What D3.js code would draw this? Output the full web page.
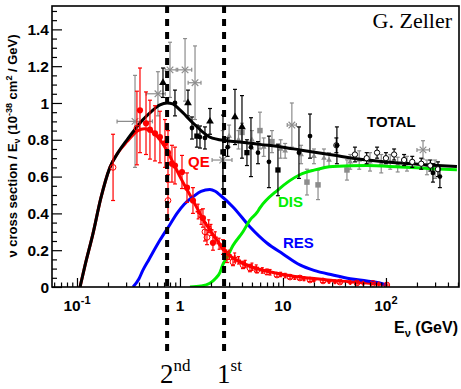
<!DOCTYPE html>
<html><head><meta charset="utf-8">
<script src="https://cdn.jsdelivr.net/npm/d3@7"></script>
<style>body{margin:0;background:#fff;} svg{display:block;}</style>
</head><body>
<svg id="c" width="461" height="389"></svg>
<script>
// ---------- DATA ----------
const xMin = 0.0572, xMax = 512;
const yMax = 1.527;
const yTicks = [0, 0.2, 0.4, 0.6, 0.8, 1, 1.2, 1.4];
const yTickLabels = ["0", "0.2", "0.4", "0.6", "0.8", "1", "1.2", "1.4"];
const yMinor = [0.05,0.1,0.15,0.25,0.3,0.35,0.45,0.5,0.55,0.65,0.7,0.75,0.85,0.9,0.95,1.05,1.1,1.15,1.25,1.3,1.35,1.45,1.5];
const xTicks = [0.1, 1, 10, 100];
const xTickBase = ["10", "1", "10", "10"];
const xTickExp = ["-1", "", "", "2"];
const xMinor = [0.06,0.07,0.08,0.09,0.2,0.3,0.4,0.5,0.6,0.7,0.8,0.9,2,3,4,5,6,7,8,9,20,30,40,50,60,70,80,90,200,300,400,500];
const peakLines = [0.75, 2.68];   // "2nd" and "1st" oscillation maxima

// model curves [E (GeV), sigma/E]
const totalCurve = [[0.107,0],[0.12,0.12],[0.143,0.29],[0.17,0.48],[0.209,0.65],[0.25,0.73],[0.306,0.80],[0.37,0.86],[0.438,0.91],[0.53,0.955],[0.64,0.99],[0.75,1.0],[0.85,0.995],[1.0,0.962],[1.34,0.891],[1.95,0.815],[2.85,0.795],[4.0,0.787],[5.96,0.775],[10,0.76],[14.6,0.745],[30.5,0.717],[65.4,0.69],[137,0.674],[285,0.662],[489,0.655]];
const qeCurve = [[0.107,0],[0.12,0.12],[0.143,0.29],[0.17,0.48],[0.209,0.65],[0.25,0.73],[0.306,0.79],[0.39,0.85],[0.45,0.86],[0.52,0.85],[0.64,0.80],[0.75,0.74],[0.85,0.68],[1.0,0.60],[1.34,0.47],[1.67,0.37],[2.29,0.255],[2.86,0.185],[4.0,0.13],[6.0,0.095],[10,0.068],[14.6,0.054],[30.5,0.036],[65,0.022],[102,0.012]];
const resCurve = [[0.35,0],[0.40,0.045],[0.437,0.092],[0.5,0.15],[0.64,0.255],[0.8,0.34],[0.935,0.40],[1.1,0.45],[1.34,0.49],[1.6,0.52],[1.95,0.53],[2.2,0.52],[2.45,0.50],[3.27,0.435],[4.79,0.326],[6.98,0.239],[10,0.18],[14.6,0.12],[20,0.09],[30.5,0.065],[45,0.045],[65.4,0.033],[87,0.022],[100,0.012]];
const disCurve = [[1.25,0],[1.6,0.005],[1.95,0.02],[2.2,0.045],[2.45,0.08],[2.6,0.12],[2.86,0.16],[3.27,0.225],[4.09,0.3],[4.78,0.364],[5.6,0.405],[5.98,0.43],[8.9,0.527],[14.6,0.61],[20,0.635],[30.5,0.655],[65,0.66],[137,0.652],[285,0.643],[489,0.637]];

// data points [E, value, yerr, (xlow, xhigh)]
const qeFilled = [[0.409,0.96,0.23],[0.468,0.89,0.17],[0.511,0.855,0.16],[0.572,0.835,0.15],[0.639,0.815,0.14],[0.715,0.78,0.13],[0.765,0.73,0.12],[0.836,0.67,0.10],[0.894,0.66,0.10],[1.046,0.625,0.09],[1.17,0.54,0.08],[1.337,0.47,0.07],[1.672,0.375,0.05],[2.09,0.24,0.04],[2.615,0.217,0.04]];
const qeOpen = [[0.224,0.65,0.18],[0.382,0.864,0.2],[0.765,0.47,0.1],[1.748,0.30,0.05],[1.829,0.27,0.04],[2.86,0.163,0.03],[3.27,0.136,0.02],[4.09,0.12,0.02],[4.78,0.103,0.02],[5.59,0.092,0.015],[6.99,0.082,0.015],[8.74,0.065,0.01],[11.7,0.054,0.01],[14.6,0.049,0.01],[18.3,0.038,0.008],[24.5,0.033,0.008],[35.7,0.027,0.006],[52.3,0.022,0.006],[74.8,0.02,0.005],[102,0.011,0.005]];
const qeDense = [[1.5,0.41,0.04],[1.6,0.38,0.04],[1.9,0.33,0.035],[2.0,0.31,0.03],[2.2,0.27,0.03],[2.4,0.235,0.03],[2.7,0.2,0.03],[3.0,0.175,0.025],[3.4,0.16,0.025],[3.7,0.145,0.02],[4.3,0.125,0.02],[5.0,0.11,0.02],[5.5,0.1,0.02],[6.3,0.09,0.015],[7.5,0.08,0.015],[9.5,0.068,0.012],[10.5,0.062,0.012],[13,0.052,0.01],[16,0.045,0.01],[20,0.038,0.008],[28,0.03,0.007],[32,0.028,0.007],[45,0.024,0.006],[60,0.021,0.005],[85,0.016,0.005]];
const totBlackTri = [[0.684,1.11,0.08],[1.196,1.0,0.07],[1.956,0.9,0.07],[3.42,0.924,0.15],[4.0,0.87,0.17]];
const totBlackSq = [[1.46,0.82,0.06],[2.615,0.734,0.2],[4.47,0.73,0.07],[8.94,0.636,0.14]];
const totBlackCirc = [[0.894,1.0,0.07],[1.308,0.864,0.06],[1.564,0.815,0.06],[1.748,0.81,0.06],[2.9,0.76,0.05],[4.89,0.76,0.16],[5.72,0.73,0.06],[7.31,0.68,0.14],[14.3,0.73,0.14],[18.3,0.82,0.12],[33.4,0.77,0.1],[286,0.62,0.05],[334,0.6,0.06]];
const totGrayCross = [[0.366,0.9,0.25,0.245,0.54],[0.611,1.05,0.12,0.47,0.72],[0.80,1.18,0.15,0.72,0.92],[1.12,1.18,0.17,0.95,1.3],[1.40,1.11,0.2,1.2,1.6],[2.6,0.69,0.16,2.05,3.2],[12.2,0.88,0.12,11,13.5],[229,0.745,0.05,200,265]];
const totGraySq = [[4.0,0.84,0.05],[5.98,0.85,0.1],[7.82,0.79,0.06],[17.1,0.57,0.07],[21.9,0.555,0.08],[41.8,0.636,0.055]];
const totGraySmall = [[3.0,0.82,0.06],[3.7,0.8,0.05],[5.0,0.8,0.05],[6.5,0.76,0.05],[9.5,0.75,0.05],[10.5,0.74,0.04],[15,0.72,0.05],[20,0.71,0.04],[25,0.7,0.05],[28,0.69,0.04],[45,0.68,0.04],[55,0.69,0.05],[70,0.68,0.05],[90,0.67,0.05],[110,0.68,0.04],[130,0.665,0.04],[160,0.67,0.04],[250,0.65,0.04],[300,0.64,0.05]];
const totOpen = [[33,0.77,0.04],[50,0.72,0.04],[65,0.7,0.03],[82,0.73,0.03],[100,0.7,0.03],[120,0.72,0.03],[150,0.69,0.03],[180,0.68,0.03],[220,0.67,0.03],[270,0.66,0.03],[320,0.64,0.04]];

// ---------- RENDER ----------
const L = 52, R = 459, T = 6, B = 287;
const x = d3.scaleLog().domain([xMin, xMax]).range([L, R]);
const y = d3.scaleLinear().domain([0, yMax]).range([B, T]);
const svg = d3.select('#c');
const sans = '"Liberation Sans", Arial, Helvetica, sans-serif';
const serif = '"Liberation Serif", "Times New Roman", serif';

svg.append('rect').attr('width', 461).attr('height', 389).attr('fill', '#fff');
svg.append('defs').append('clipPath').attr('id', 'clip')
  .append('rect').attr('x', L).attr('y', T).attr('width', R - L).attr('height', B - T);
const plot = svg.append('g').attr('clip-path', 'url(#clip)');

const line = d3.line().x(d => x(d[0])).y(d => y(d[1])).curve(d3.curveMonotoneX);
const curves = [
  {data: qeCurve, color: '#ff0000'},
  {data: resCurve, color: '#0000ff'},
  {data: disCurve, color: '#00ee00'},
  {data: totalCurve, color: '#000000'}
];

function drawSeries(data, o) {
  const g = plot.append('g');
  data.forEach(d => {
    const cx = x(d[0]), cy = y(d[1]);
    const y1 = y(d[1] + d[2]), y2 = y(Math.max(0, d[1] - d[2]));
    g.append('line').attr('x1', cx).attr('x2', cx).attr('y1', y1).attr('y2', y2)
      .attr('stroke', o.color).attr('stroke-width', o.lw || 1.2);
    if (o.cap) {
      [y1, y2].forEach(yy => g.append('line').attr('x1', cx - o.cap).attr('x2', cx + o.cap)
        .attr('y1', yy).attr('y2', yy).attr('stroke', o.color).attr('stroke-width', 1.2));
    }
    if (d.length > 3) {
      g.append('line').attr('x1', x(d[3])).attr('x2', x(d[4])).attr('y1', cy).attr('y2', cy)
        .attr('stroke', o.color).attr('stroke-width', o.lw || 1.2);
      if (o.cap) {
        [x(d[3]), x(d[4])].forEach(xx => g.append('line').attr('x1', xx).attr('x2', xx)
          .attr('y1', cy - o.cap).attr('y2', cy + o.cap).attr('stroke', o.color).attr('stroke-width', 1.2));
      }
    }
    g.append('path').attr('d', d3.symbol().type(o.type).size(o.size)())
      .attr('transform', `translate(${cx},${cy})`)
      .attr('fill', o.fill).attr('stroke', o.stroke || 'none').attr('stroke-width', o.sw || 1);
  });
}

// gray data first
drawSeries(totGraySmall, {color: '#8c8c8c', type: d3.symbolTriangle, size: 14, fill: '#8c8c8c', cap: 2});
drawSeries(totGraySq, {color: '#8c8c8c', type: d3.symbolSquare, size: 30, fill: '#8c8c8c', cap: 2});
drawSeries(totGrayCross, {color: '#8c8c8c', type: d3.symbolX, size: 30, fill: 'none', stroke: '#8c8c8c', sw: 1.2, cap: 2});

curves.forEach(c => plot.append('path').attr('d', line(c.data)).attr('fill', 'none')
  .attr('stroke', c.color).attr('stroke-width', 3).attr('stroke-linejoin', 'round'));

drawSeries(totOpen, {color: '#000', type: d3.symbolCircle, size: 22, fill: '#fff', stroke: '#000', sw: 1, cap: 2});
drawSeries(totBlackCirc, {color: '#000', type: d3.symbolCircle, size: 18, fill: '#000', cap: 2});
drawSeries(totBlackSq, {color: '#000', type: d3.symbolSquare, size: 28, fill: '#000', cap: 2});
drawSeries(totBlackTri, {color: '#000', type: d3.symbolTriangle, size: 26, fill: '#000', cap: 2});
drawSeries(qeDense, {color: '#ff0000', type: d3.symbolCross, size: 14, fill: '#ff0000', cap: 1.5});
drawSeries(qeOpen, {color: '#ff0000', type: d3.symbolCircle, size: 26, fill: 'none', stroke: '#ff0000', sw: 1, cap: 2});
drawSeries(qeFilled, {color: '#ff0000', type: d3.symbolCircle, size: 30, fill: '#ff0000', cap: 2});

// axes (ticks inward)
const yAx = svg.append('g').attr('transform', `translate(${L},0)`)
  .call(d3.axisLeft(y).tickValues(yTicks).tickSize(-10).tickFormat(''));
const yAxm = svg.append('g').attr('transform', `translate(${L},0)`)
  .call(d3.axisLeft(y).tickValues(yMinor).tickSize(-5).tickFormat(''));
const xAx = svg.append('g').attr('transform', `translate(0,${B})`)
  .call(d3.axisBottom(x).tickValues(xTicks).tickSize(-9).tickFormat(''));
const xAxm = svg.append('g').attr('transform', `translate(0,${B})`)
  .call(d3.axisBottom(x).tickValues(xMinor).tickSize(-4.5).tickFormat(''));
[yAx, yAxm, xAx, xAxm].forEach(a => {
  a.select('.domain').remove();
  a.selectAll('line').attr('stroke', '#000').attr('stroke-width', 1.2);
});

// frame
svg.append('rect').attr('x', L).attr('y', T).attr('width', R - L).attr('height', B - T)
  .attr('fill', 'none').attr('stroke', '#000').attr('stroke-width', 1.6);

// y tick labels
svg.append('g').selectAll('text').data(yTicks).join('text')
  .attr('x', L - 3).attr('y', d => y(d)).attr('dy', '0.36em')
  .attr('text-anchor', 'end').attr('font-family', sans).attr('font-weight', 'bold')
  .attr('font-size', 15.5).text((d, i) => yTickLabels[i]);

// x tick labels
const xl = svg.append('g').selectAll('text').data(xTicks).join('text')
  .attr('x', d => x(d)).attr('y', 311).attr('text-anchor', 'middle')
  .attr('font-family', sans).attr('font-weight', 'bold').attr('font-size', 15.5);
xl.each(function(d, i) {
  const t = d3.select(this);
  t.append('tspan').text(xTickBase[i]);
  if (xTickExp[i]) t.append('tspan').attr('dy', -7).attr('font-size', 11).text(xTickExp[i]);
});

// x title
const xt = svg.append('text').attr('x', 458).attr('y', 333).attr('text-anchor', 'end')
  .attr('font-family', sans).attr('font-weight', 'bold').attr('font-size', 16);
xt.append('tspan').text('E');
xt.append('tspan').attr('dy', 4).attr('font-size', 11).text('ν');
xt.append('tspan').attr('dy', -4).text(' (GeV)');

// y title
const yt = svg.append('text').attr('transform', 'translate(17,146) rotate(-90)')
  .attr('text-anchor', 'middle').attr('font-family', sans).attr('font-weight', 'bold').attr('font-size', 13);
yt.append('tspan').text('ν cross section / E');
yt.append('tspan').attr('dy', 3).attr('font-size', 9).text('ν');
yt.append('tspan').attr('dy', -3).text(' (10');
yt.append('tspan').attr('dy', -5).attr('font-size', 9).text('-38');
yt.append('tspan').attr('dy', 5).text(' cm');
yt.append('tspan').attr('dy', -5).attr('font-size', 9).text('2');
yt.append('tspan').attr('dy', 5).text(' / GeV)');

// curve labels
const lab = (t, px, py, c) => svg.append('text').attr('x', px).attr('y', py)
  .attr('font-family', sans).attr('font-weight', 'bold').attr('font-size', 15).attr('fill', c).text(t);
lab('TOTAL', 367, 127, '#000');
lab('QE', 188, 167, '#ff0000');
lab('DIS', 278, 207, '#00ee00');
lab('RES', 283, 248, '#0000ff');

// author
svg.append('text').attr('x', 452).attr('y', 28).attr('text-anchor', 'end')
  .attr('font-family', serif).attr('font-size', 22).text('G. Zeller');

// dashed oscillation lines
svg.append('g').selectAll('line').data(peakLines).join('line')
  .attr('x1', d => x(d)).attr('x2', d => x(d)).attr('y1', T).attr('y2', 353)
  .attr('stroke', '#000').attr('stroke-width', 4).attr('stroke-dasharray', '7,6');

const ord = [['2', 'nd'], ['1', 'st']];
svg.append('g').selectAll('text').data(peakLines).join('text')
  .attr('x', d => x(d) - 7).attr('y', 383).attr('font-family', serif).attr('font-size', 27)
  .each(function(d, i) {
    const t = d3.select(this);
    t.append('tspan').text(ord[i][0]);
    t.append('tspan').attr('dy', -12).attr('font-size', 17).text(ord[i][1]);
  });
</script>
</body></html>
